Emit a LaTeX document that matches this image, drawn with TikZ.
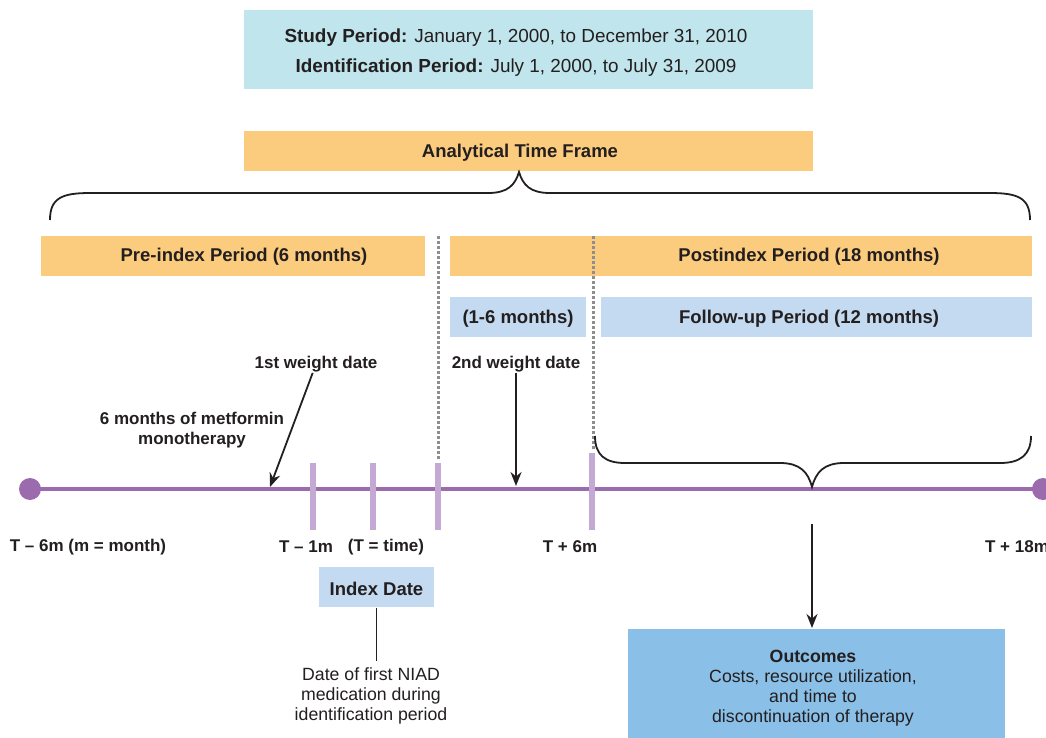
\documentclass[tikz,border=0pt]{standalone}
\usepackage{fontspec}
\setmainfont{Liberation Sans}
\usetikzlibrary{arrows.meta,positioning}
\definecolor{ink}{HTML}{231F20}
\definecolor{cyanbox}{HTML}{C0E5EC}
\definecolor{tanbox}{HTML}{FBCB7E}
\definecolor{paleblue}{HTML}{C3DAF0}
\definecolor{outblue}{HTML}{8ABFE7}
\definecolor{lineviolet}{HTML}{9C6BAE}
\definecolor{tickviolet}{HTML}{C4A9D4}
\definecolor{dashgray}{HTML}{8E8E8E}
\begin{document}
\begin{tikzpicture}
[x=1pt, y=-1pt, >={Stealth[length=14pt,width=11pt]}, line width=1.8pt,
every node/.style={text=ink, font=\fontsize{17.7}{20}\selectfont, inner sep=0pt},
lbl/.style={font=\fontsize{17}{20}\selectfont\bfseries, align=center},
title/.style={font=\fontsize{18.5}{20}\selectfont\bfseries},
plain/.style={align=center},
box/.style={minimum height=40pt},
obox/.style={box, fill=tanbox},
pbox/.style={box, fill=paleblue},
period/.style={dashgray, line width=3pt, dash pattern=on 3pt off 2pt},
tick/.style={tickviolet, line width=6pt},
curly/.style={ink, line width=1.8pt}
]
  \useasboundingbox (0,0) rectangle (1046,738);

  % header boxes
  \node[fill=cyanbox, minimum width=569pt, minimum height=79pt] (study) at (528.5,49.5) {};
  \node[align=center, font=\fontsize{18.9}{30}\selectfont] (studytxt) at (516,53)
    {\textbf{Study Period:} January 1, 2000, to December 31, 2010\\
     \textbf{Identification Period:} July 1, 2000, to July 31, 2009};
  \node[obox, minimum width=569pt] (atf) at (528.5,151) {};
  \node[title] (atftxt) at (520,153) {Analytical Time Frame};

  % periods
  \node[obox, minimum width=384pt] (pre)  at (233,256) {};
  \node[obox, minimum width=582pt] (post) at (741,256) {};
  \node[title] (pretxt)  at (244,257) {Pre-index Period (6 months)};
  \node[title] (posttxt) at (809,257) {Postindex Period (18 months)};
  \node[pbox, minimum width=136pt] (m16) at (518,317) {};
  \node[title] (m16txt) at (518,319) {(1-6 months)};
  \node[pbox, minimum width=431pt] (fu) at (816.5,317) {};
  \node[title] (futxt) at (809,319) {Follow-up Period (12 months)};

  % timeline
  \coordinate (t0) at (30,489);
  \coordinate (t18) at (1043,489);
  \draw[lineviolet, line width=4pt] (t0) -- (t18);
  \fill[lineviolet] (t0) circle (11pt) (t18) circle (11pt);
  \foreach \x in {313,373,438}
    \draw[tick] (\x,463) -- (\x,530);
  \draw[tick] (592,453) -- (592,530);
  \draw[period] (438,236) -- (438,460);
  \draw[period] (593,236) -- (593,450);

  % braces
  \draw[curly] (50,220) .. controls (50,198) and (62,193) .. (90,193) -- (488,193)
    .. controls (508,193) and (515,185) .. (519,172)
    .. controls (523,185) and (530,193) .. (550,193) -- (990,193)
    .. controls (1018,193) and (1030,198) .. (1030,220);
  \draw[curly] (595,436) .. controls (595,455) and (605,463) .. (625,463) -- (780,463)
    .. controls (800,463) and (808,472) .. (812,487)
    .. controls (816,472) and (824,463) .. (844,463) -- (1000,463)
    .. controls (1020,463) and (1031,455) .. (1031,436);

  % labels on the line
  \node[lbl] (w1)  at (316,364) {1st weight date};
  \node[lbl] (w2)  at (516,364) {2nd weight date};
  \node[lbl] (met) at (192,430) {6 months of metformin\\monotherapy};
  \coordinate (w1tip) at (270,487);
  \coordinate (w2tip) at (516,486);
  \node[lbl] (tm6)  at (88,547)   {T -- 6m (m = month)};
  \node[lbl] (tm1)  at (306,547)  {T -- 1m};
  \node[lbl] (tt)   at (386,547)  {(T = time)};
  \node[lbl] (tp6)  at (570,547)  {T + 6m};
  \node[lbl] (tp18) at (1017,547) {T + 18m};

  % index date and outcomes
  \node[pbox, minimum width=115pt] (idx) at (376.5,587) {};
  \node[title] (idxtxt) at (376.5,589) {Index Date};
  \node[plain] (niad) at (371,696)
    {Date of first NIAD\\medication during\\identification period};
  \coordinate (brtip) at (812,524);
  \node[fill=outblue, minimum width=377pt, minimum height=112pt, align=center,
        anchor=north] (out) at (816.5,628) {};
  \node[plain] (outtxt) at (813,688)
    {\textbf{Outcomes}\\Costs, resource utilization,\\and time to\\discontinuation of therapy};

  \path[->, ink]
    (w1) edge (w1tip)
    (w2) edge (w2tip)
    (brtip) edge (brtip |- out.north)
    ;
  \draw[ink] (idx.south) -- (376.5,661);
\end{tikzpicture}
\end{document}
